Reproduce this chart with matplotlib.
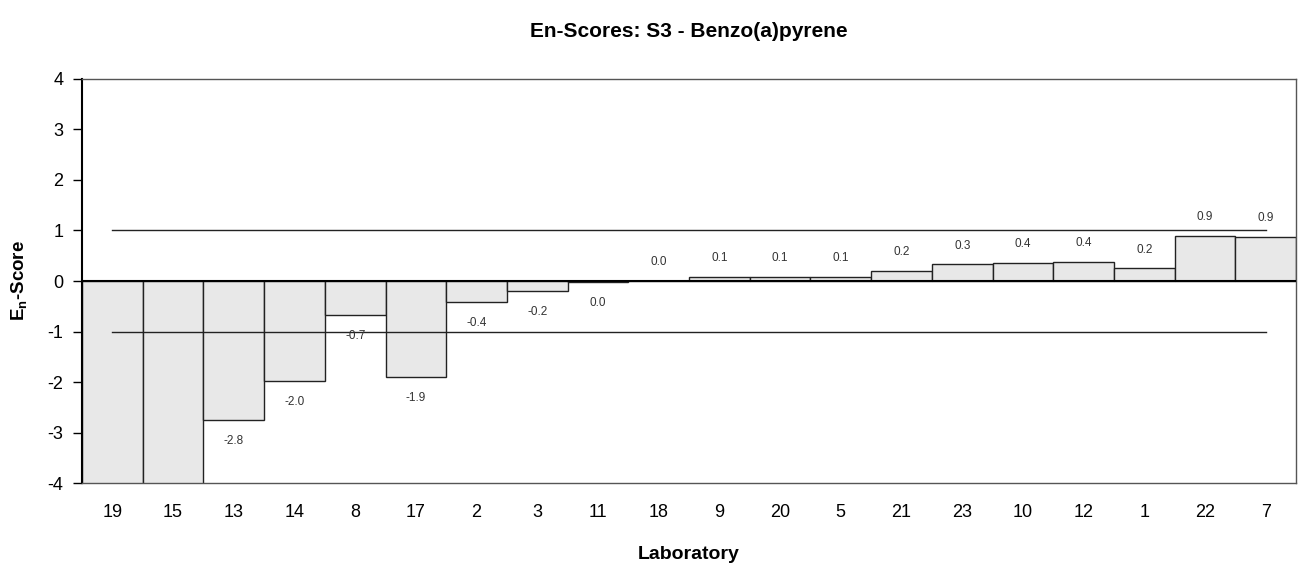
import matplotlib
matplotlib.use("Agg")
import matplotlib.pyplot as plt
import numpy as np

labs = ["19", "15", "13", "14", "8", "17", "2", "3", "11", "18",
        "9", "20", "5", "21", "23", "10", "12", "1", "22", "7"]
scores = [-5.0, -4.6, -2.75, -1.98, -0.67, -1.9, -0.41, -0.2, -0.02, 0.0,
          0.08, 0.08, 0.08, 0.2, 0.33, 0.36, 0.38, 0.25, 0.9, 0.87]
limits = [1, -1]

plt.rcParams['font.family'] = ['Liberation Sans', 'DejaVu Sans']

fig = plt.figure(figsize=(12.98, 5.65), dpi=100)
ax = fig.add_axes([0.0632, 0.1451, 0.9353, 0.7151])

x = np.arange(len(labs))
ax.bar(x, scores, width=1.0, color='#e8e8e8', edgecolor='#222222', linewidth=1.0, zorder=2)

ax.set_xlim(-0.5, len(labs) - 0.5)
ax.set_ylim(-4, 4)

for lv in limits:
    ax.plot([x[0], x[-1]], [lv, lv], color='#222222', linewidth=1.0, zorder=3)
ax.axhline(0, color='black', linewidth=1.5, zorder=4)

for xi, v in zip(x, scores):
    off = 0.37 if v >= 0 else -0.42
    ax.text(xi, v + off, f"{v:.1f}".replace("-0.0", "0.0"), ha='center', va='center',
            fontsize=8.5, color='#333333', clip_on=True, zorder=5)

ax.set_xticks(x)
ax.set_xticklabels(labs, fontsize=13)
ax.tick_params(axis='x', length=0, pad=15)
ax.set_yticks(range(-4, 5))
ax.set_yticklabels([str(t) for t in range(-4, 5)], fontsize=13)
ax.tick_params(axis='y', length=6.5, width=1, direction='out', pad=7)

for s in ['top', 'right', 'bottom']:
    ax.spines[s].set_color('#555555')
    ax.spines[s].set_linewidth(1.0)
ax.spines['left'].set_color('black')
ax.spines['left'].set_linewidth(1.5)

ax.set_xlabel("Laboratory", fontsize=14, fontweight='bold', labelpad=18)
ax.set_ylabel(r"E$_\mathregular{n}$-Score", fontsize=13.5, fontweight='bold')
ax.yaxis.set_label_coords(-0.043, 0.5)
fig.text(0.531, 0.945, "En-Scores: S3 - Benzo(a)pyrene", ha='center', va='center',
         fontsize=15, fontweight='bold')

fig.savefig("out.png", dpi=100)
